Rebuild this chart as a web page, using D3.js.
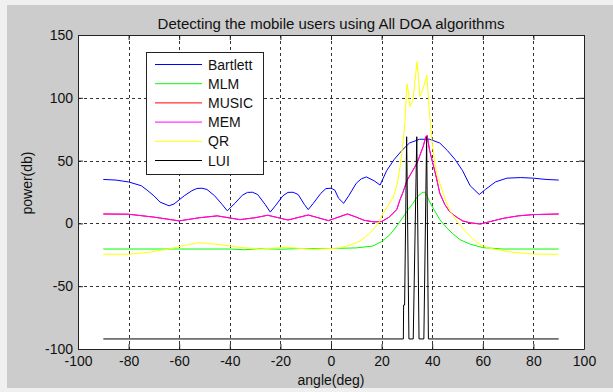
<!DOCTYPE html>
<html>
<head>
<meta charset="utf-8">
<script src="https://cdn.jsdelivr.net/npm/d3@7"></script>
<style>
  body { margin: 0; background: #f0f0f0; }
  svg { display: block; font-family: "Liberation Sans", Arial, sans-serif; }
</style>
</head>
<body>
<svg width="613" height="392"></svg>
<script>
// angle (deg) / power (db) pairs
let bartlett = [
    [-90, 35], [-85, 34.5], [-80, 33], [-75, 30], [-72.7, 26.5], [-70, 22], [-67.6, 17], [-64, 14],
    [-62, 15.5], [-58, 22], [-55, 26], [-53, 27.8], [-51, 28], [-49, 27], [-46, 22], [-43, 15], [-41, 10],
    [-38, 16], [-35, 22.5], [-33, 24.7], [-31, 24.8], [-29, 23], [-26, 15], [-24, 9], [-22, 14], [-19, 22],
    [-17, 24.7], [-15, 24.8], [-13, 23], [-10.5, 15], [-9, 11], [-7, 16], [-4, 24], [-2, 27.7], [0, 28], [1.5, 26.5],
    [3, 20], [5, 16], [7, 22], [10, 32], [12, 35.5], [14, 37], [17, 34], [19.4, 30.5],
    [22, 42], [25, 51], [28, 58], [31, 64], [35, 67], [39, 67], [43, 64], [46, 58],
    [49, 51], [52, 42], [55, 30], [58.6, 23], [61, 27], [65, 33], [69.5, 36], [75, 36.5],
    [80, 36], [85, 35], [90, 34.5]
]

let mlm = [
    [-90, -20.4], [-60, -20.4], [-40, -20.4], [-34, -21], [-28, -20], [-20, -20.6], [-12, -20],
    [0, -20], [10, -19.5], [16.6, -18], [20, -14.5], [23.3, -9], [26, -2], [28.5, 5],
    [30.5, 11], [32.4, 16], [34, 21], [36, 24.5], [37, 25], [38, 22], [39, 17], [41, 10],
    [43, 3], [45.5, -3], [48, -8], [51, -13], [55, -16.5], [60, -19.3], [68, -20.4], [90, -20.4]
]

let mem = [
    [-90, 7.5], [-80, 7.3], [-70, 5], [-60, 2], [-52, 4.5], [-45, 6], [-36, 3], [-30, 4.5],
    [-25, 6.5], [-17, 2.7], [-9, 6.7], [-1, 2.2], [6.5, 7.5], [10, 5], [13, 2.5], [17, 1.2],
    [20, 1.5], [23, 5], [26, 11], [27.3, 19], [28.5, 25], [30, 34], [32, 41], [34, 48],
    [36.4, 61], [37.5, 69], [38, 70], [39, 58], [41.7, 36], [43, 24], [45, 15], [47, 9],
    [50, 4.5], [52, 2], [55, 0.5], [59, -0.5], [63, 1.5], [68, 4], [74, 6], [80, 7], [90, 7.5]
]

// MUSIC sits under the MEM trace in the picture
let music = mem.map(d => [d[0], d[1]])

let qr = [
    [-90, -24.6], [-80, -24.6], [-72, -23], [-64, -20.4], [-58, -17.5], [-52, -15.4], [-46, -16.5],
    [-40, -18], [-34, -19.5], [-28, -20.4], [-22, -19.5], [-17, -19], [-12, -20], [-7, -20.6],
    [0, -20], [3, -19.6], [8, -17], [11.5, -14], [14, -10], [16.6, -5.3], [19, 1], [20.6, 8],
    [22.5, 14], [24.6, 21], [26, 30], [27.3, 45], [28.5, 65], [29.2, 80], [30, 111],
    [30.6, 105], [31.2, 93], [32.4, 98], [33, 110], [34, 128.7], [34.6, 115], [35.2, 101],
    [36.5, 108], [37.9, 118], [38.7, 93], [39.9, 66], [41, 48], [42, 38], [43, 32], [45, 20],
    [47, 10], [50, 1], [53, -6], [56, -12], [59, -17], [62, -19.5], [66, -21], [72, -23],
    [80, -24.4], [90, -24.6]
]

let lui = [
    [-90, -92], [28.6, -92], [28.7, -65], [29.1, -65], [29.9, 69], [30.8, -92], [32.5, -92],
    [33.9, 69], [34.8, -92], [36.7, -92], [37.8, 69], [38.5, -92], [90, -92]
]

let seriesNames = ['Bartlett', 'MLM', 'MUSIC', 'MEM', 'QR', 'LUI']
let seriesColors = ['#0000ff', '#00ff00', '#ff0000', '#ff00ff', '#ffff00', '#000000']
let seriesData = [bartlett, mlm, music, mem, qr, lui]

let xTicks = [-100, -80, -60, -40, -20, 0, 20, 40, 60, 80, 100]
let yTicks = [-100, -50, 0, 50, 100, 150]

let svg = d3.select('svg')

// grey figure background
svg.append('rect')
    .attr('x', 7).attr('y', 5)
    .attr('width', 606).attr('height', 383)
    .attr('fill', '#cccccc')

let x = d3.scaleLinear().domain([-100, 100]).range([78, 584])
let y = d3.scaleLinear().domain([-100, 150]).range([349, 35])

svg.append('rect')
    .attr('x', 78).attr('y', 35)
    .attr('width', 506).attr('height', 314)
    .attr('fill', '#ffffff')

// grid
let grid = svg.append('g')
grid.selectAll('line.vx')
    .data(xTicks.slice(1, -1))
    .enter()
    .append('line')
    .attr('x1', d => Math.round(x(d)) + 0.5)
    .attr('x2', d => Math.round(x(d)) + 0.5)
    .attr('y1', 35).attr('y2', 349)
    .attr('stroke', '#333')
    .attr('stroke-dasharray', '3,3')
grid.selectAll('line.hy')
    .data(yTicks.slice(1, -1))
    .enter()
    .append('line')
    .attr('y1', d => Math.round(y(d)) + 0.5)
    .attr('y2', d => Math.round(y(d)) + 0.5)
    .attr('x1', 78).attr('x2', 584)
    .attr('stroke', '#333')
    .attr('stroke-dasharray', '3,3')

// curves
let line = d3.line()
    .x(d => x(d[0]))
    .y(d => y(d[1]))

svg.append('g')
    .selectAll('path')
    .data(seriesData)
    .enter()
    .append('path')
    .attr('d', line)
    .attr('fill', 'none')
    .attr('stroke', (d, i) => seriesColors[i])
    .attr('stroke-width', 1)

// axes, MATLAB style ticks pointing inward, plain hyphen minus
let fmt = d => String(d)
let xAxis = svg.append('g')
    .attr('transform', 'translate(0,349)')
    .call(d3.axisBottom(x).tickValues(xTicks).tickFormat(fmt).tickSizeInner(-5).tickSizeOuter(0).tickPadding(7))
let xAxisTop = svg.append('g')
    .attr('transform', 'translate(0,35)')
    .call(d3.axisTop(x).tickValues(xTicks).tickSizeInner(-5).tickSizeOuter(0).tickFormat(''))
let yAxis = svg.append('g')
    .attr('transform', 'translate(78,0)')
    .call(d3.axisLeft(y).tickValues(yTicks).tickFormat(fmt).tickSizeInner(-5).tickSizeOuter(0).tickPadding(5))
let yAxisRight = svg.append('g')
    .attr('transform', 'translate(584,0)')
    .call(d3.axisRight(y).tickValues(yTicks).tickSizeInner(-5).tickSizeOuter(0).tickFormat(''))

svg.selectAll('.domain').attr('stroke', '#222')
svg.selectAll('.tick line').attr('stroke', '#222')
svg.selectAll('.tick text')
    .attr('font-size', 14)
    .attr('fill', '#111')
    .attr('font-family', '"Liberation Sans", Arial, sans-serif')

// titles
svg.append('text')
    .attr('x', 331).attr('y', 29)
    .attr('text-anchor', 'middle')
    .attr('font-size', 15)
    .attr('fill', '#111')
    .text('Detecting the mobile users using All DOA algorithms')

svg.append('text')
    .attr('x', 331).attr('y', 385)
    .attr('text-anchor', 'middle')
    .attr('font-size', 14)
    .attr('fill', '#111')
    .text('angle(deg)')

svg.append('text')
    .attr('transform', 'translate(32,183) rotate(-90)')
    .attr('text-anchor', 'middle')
    .attr('font-size', 14)
    .attr('fill', '#111')
    .text('power(db)')

// legend
let legend = svg.append('g')
    .attr('class', 'legend')

legend.append('rect')
    .attr('x', 146.5).attr('y', 52.5)
    .attr('width', 117).attr('height', 122)
    .attr('fill', '#ffffff')
    .attr('stroke', '#222')

legend.selectAll('line')
    .data(seriesNames)
    .enter()
    .append('line')
    .attr('x1', 155).attr('x2', 202)
    .attr('y1', (d, i) => 64.5 + 19.2 * i)
    .attr('y2', (d, i) => 64.5 + 19.2 * i)
    .attr('stroke', (d, i) => seriesColors[i])

legend.selectAll('text')
    .data(seriesNames)
    .enter()
    .append('text')
    .text(d => d)
    .attr('x', 208)
    .attr('y', (d, i) => 69.5 + 19.2 * i)
    .attr('font-size', 14)
    .attr('fill', '#111')
</script>
</body>
</html>
